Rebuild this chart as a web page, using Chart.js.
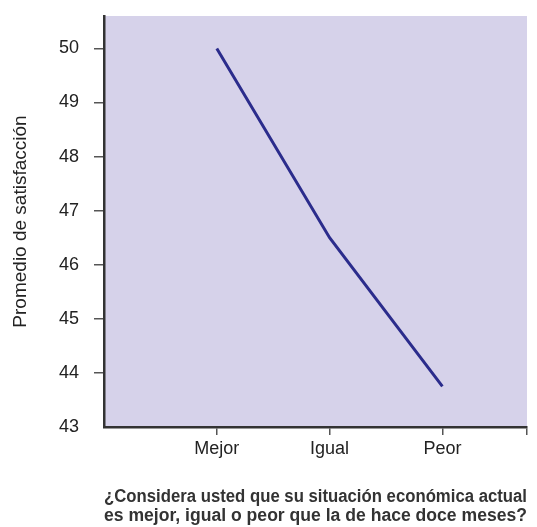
<!DOCTYPE html>
<html>
<head>
<meta charset="utf-8">
<script src="https://cdn.jsdelivr.net/npm/chart.js@4"></script>
<style>
  html, body { margin: 0; padding: 0; background: #fff; }
  #wrap { width: 537px; height: 527px; }
</style>
</head>
<body>
<div id="wrap"><canvas id="satChart" width="537" height="527"></canvas></div>
<script>
const categories = ["Mejor", "Igual", "Peor"];
const satisfaction = [50.0, 46.5, 43.75];
const yTickValues = [43, 44, 45, 46, 47, 48, 49, 50];
const xTitle = [
  "¿Considera usted que su situación económica actual",
  "es mejor, igual o peor que la de hace doce meses?",
];
const yTitle = "Promedio de satisfacción";

const NAVY = "#2b2c8c";
const PLOT_BG = "#d6d2ea";
const AXIS = "#333333";
const TICK = "#555555";
const SANS = "'Liberation Sans', Arial, sans-serif";
const NARROW = "'Liberation Sans Narrow', 'Arial Narrow', 'Liberation Sans', sans-serif";

const plotBackground = {
  id: "plotBackground",
  beforeDraw(chart) {
    const { ctx, chartArea: a } = chart;
    ctx.save();
    ctx.fillStyle = PLOT_BG;
    ctx.fillRect(a.left, a.top, a.right - a.left, a.bottom - a.top);
    ctx.restore();
  },
};

const ctx = document.getElementById("satChart").getContext("2d");

new Chart(ctx, {
  type: "line",
  data: {
    datasets: [
      {
        label: "Promedio",
        data: satisfaction.map((v, i) => ({ x: i + 1, y: v })),
        borderColor: NAVY,
        borderWidth: 3,
        pointRadius: 0,
        tension: 0,
        fill: false,
      },
    ],
  },
  options: {
    responsive: false,
    animation: false,
    layout: { padding: { top: 16, right: 10, left: 0, bottom: 0 } },
    scales: {
      x: {
        type: "linear",
        min: 0,
        max: 3.75,
        afterBuildTicks: (s) => {
          s.ticks = [1, 2, 3, 3.75].map((value) => ({ value }));
        },
        afterFit: (s) => {
          s.height = 100;
        },
        grid: {
          drawOnChartArea: false,
          tickLength: 8,
          color: TICK,
          lineWidth: 1.5,
        },
        border: { color: AXIS, width: 2.5 },
        ticks: {
          autoSkip: false,
          maxRotation: 0,
          padding: 3,
          color: "#222",
          font: { family: SANS, size: 18 },
          callback: (v, i) => categories[i] ?? "",
        },
        title: {
          display: true,
          text: xTitle,
          color: "#333",
          padding: { top: 0, bottom: 1 },
          font: { family: NARROW, size: 18, weight: "bold", lineHeight: "19px" },
        },
      },
      y: {
        min: 43,
        max: 50.6,
        afterBuildTicks: (s) => {
          s.ticks = yTickValues.map((value) => ({ value }));
        },
        afterFit: (s) => {
          s.width = 104;
          s.paddingTop = 0;
          s.paddingBottom = 0;
        },
        grid: {
          drawOnChartArea: false,
          tickLength: 10,
          color: (c) => (c.tick && c.tick.value === 43 ? "rgba(0,0,0,0)" : TICK),
          lineWidth: 1.5,
        },
        border: { color: AXIS, width: 2.5 },
        ticks: {
          padding: 15,
          color: "#222",
          font: { family: SANS, size: 18 },
        },
        title: {
          display: true,
          text: yTitle,
          color: "#222",
          padding: { top: 9, bottom: 0 },
          font: { family: SANS, size: 19 },
        },
      },
    },
    plugins: {
      legend: { display: false },
      tooltip: { enabled: false },
    },
  },
  plugins: [plotBackground],
});
</script>
</body>
</html>
